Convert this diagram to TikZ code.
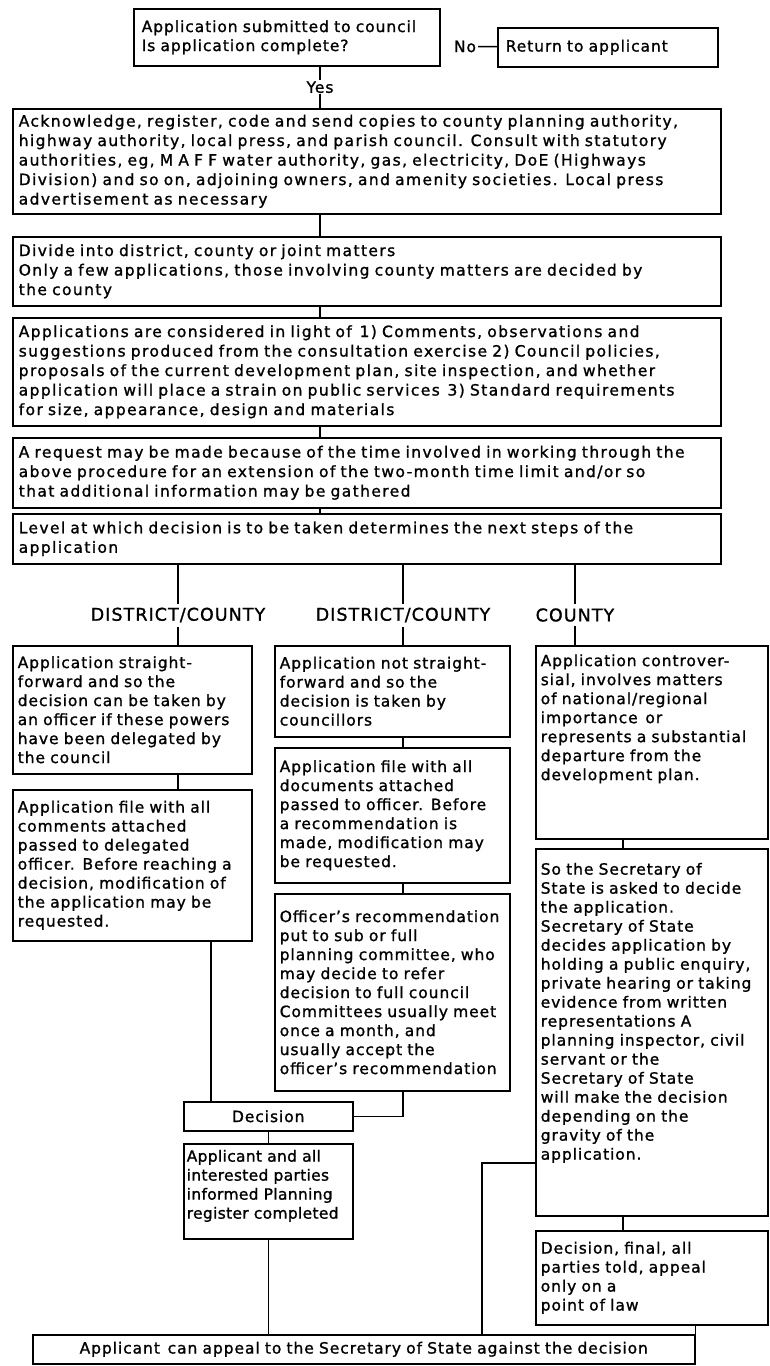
\documentclass[tikz,border=0pt]{standalone}
\usepackage{fontspec}
\setmainfont{DejaVu Sans}[LetterSpace=6, FakeBold=1.2]
\newcommand{\bodyfont}{\fontsize{15.5}{19}\selectfont}
\newcommand{\widefont}{\fontsize{15.5}{19.5}\selectfont\addfontfeature{LetterSpace=9}}
\newcommand{\tightfont}{\fontsize{15.5}{19}\selectfont\addfontfeature{LetterSpace=2}}
\newcommand{\headfont}{\fontsize{17.5}{20}\selectfont}

\tikzset{
  stage/.style={draw, line width=1.5pt, anchor=north west, inner xsep=5pt, inner ysep=2pt, align=left, font=\bodyfont},
  wide/.style={stage, font=\widefont, inner xsep=6pt, minimum width=708pt, text width=696pt},
  colA/.style={stage, minimum width=239pt, text width=229pt},
  colB/.style={stage, minimum width=235pt, text width=225pt},
  colC/.style={stage, minimum width=232pt, text width=222pt},
  branch/.style={font=\headfont, inner sep=4pt},
  link/.style={line width=1.5pt},
}

\begin{document}
\begin{tikzpicture}[x=1pt,y=-1pt]
\useasboundingbox (0,0) rectangle (769,1366);
\coordinate (yx) at (320,0);
\coordinate (ax) at (211,0);
\coordinate (cx) at (623,0);
\coordinate (sx) at (482,1163);

% submission
\node[stage, minimum width=306pt, text width=290pt, inner xsep=8pt, minimum height=57pt] (top) at (133,8) {Application submitted to council\\Is application complete?};
\node[stage, minimum width=220pt, text width=204pt, inner xsep=8pt, minimum height=39pt] (ret) at (497,27) {Return to applicant};
\node[font=\bodyfont, inner sep=2pt] (no) at (465,46.5) {No};
\draw[link] (no) -- (ret);

% common steps
\node[wide, minimum height=105pt] (ack) at (12,108) {Acknowledge, register, code and send copies to county planning authority,\\highway authority, local press, and parish council. Consult with statutory\\authorities, eg, M A F F water authority, gas, electricity, DoE (Highways\\Division) and so on, adjoining owners, and amenity societies. Local press\\advertisement as necessary};
\node[wide, minimum height=69pt] (div) at (12,236) {Divide into district, county or joint matters\\Only a few applications, those involving county matters are decided by\\the county};
\node[wide, minimum height=108pt] (cons) at (12,317) {Applications are considered in light of\enspace 1) Comments, observations and\\suggestions produced from the consultation exercise 2) Council policies,\\proposals of the current development plan, site inspection, and whether\\application will place a strain on public services\enspace 3) Standard requirements\\for size, appearance, design and materials};
\node[wide, minimum height=70pt] (req) at (12,437) {A request may be made because of the time involved in working through the\\above procedure for an extension of the two-month time limit and/or so\\that additional information may be gathered};
\node[wide, minimum height=50pt] (lvl) at (12,513) {Level at which decision is to be taken determines the next steps of the\\application};

\draw[link] (top.south -| yx) -- node[fill=white, font=\bodyfont, inner sep=1pt] {Yes} (ack.north -| yx);
\draw[link] (ack.south -| yx) -- (div.north -| yx);
\draw[link] (div.south -| yx) -- (cons.north -| yx);
\draw[link] (cons.south -| yx) -- (req.north -| yx);
\draw[link] (req.south -| yx) -- (lvl.north -| yx);

% three levels
\node[branch] (d1) at (178,615) {DISTRICT/COUNTY};
\node[branch] (d2) at (403,615) {DISTRICT/COUNTY};
\node[branch] (d3) at (575,615) {COUNTY};

\node[colA, minimum height=128pt] (a1) at (12,645) {Application straight-\\forward and so the\\decision can be taken by\\an officer if these powers\\have been delegated by\\the council};
\node[colA, minimum height=151pt] (a2) at (12,789) {Application file with all\\comments attached\\passed to delegated\\officer. Before reaching a\\decision, modification of\\the application may be\\requested.};

\node[colB, minimum height=91pt] (b1) at (274,645) {Application not straight-\\forward and so the\\decision is taken by\\councillors};
\node[colB, minimum height=135pt] (b2) at (274,747) {Application file with all\\documents attached\\passed to officer. Before\\a recommendation is\\made, modification may\\be requested.};
\node[colB, minimum height=197pt] (b3) at (274,893) {Officer's recommendation\\put to sub or full\\planning committee, who\\may decide to refer\\decision to full council\\Committees usually meet\\once a month, and\\usually accept the\\officer's recommendation};

\node[colC, minimum height=193pt] (c1) at (535,645) {Application controver-\\sial, involves matters\\of national/regional\\importance\enspace or\\represents a substantial\\departure from the\\development plan.\rule[-50pt]{0pt}{50pt}};
\node[colC, minimum height=367pt] (c2) at (535,848) {So the Secretary of\\State is asked to decide\\the application.\\Secretary of State\\decides application by\\holding a public enquiry,\\private hearing or taking\\evidence from written\\representations A\\planning inspector, civil\\servant or the\\Secretary of State\\will make the decision\\depending on the\\gravity of the\\application.\rule[-42pt]{0pt}{42pt}};
\node[colC, minimum height=94pt] (fin) at (535,1230) {Decision, final, all\\parties told, appeal\\only on a\\point of law};

\node[stage, align=center, minimum width=169pt, text width=159pt, minimum height=29pt] (dec) at (183,1101) {Decision};
\node[stage, font=\tightfont, inner xsep=3pt, minimum width=169pt, text width=163pt, minimum height=95pt] (appl) at (183,1143) {Applicant and all\\interested parties\\informed Planning\\register completed\rule[-14pt]{0pt}{14pt}};

\node[stage, align=center, minimum width=662pt, text width=652pt, minimum height=29pt] (appeal) at (32,1334) {Applicant\enspace can appeal to the Secretary of State against the decision};

\draw[link] (lvl.south -| d1) -- (d1.north);
\draw[link] (lvl.south -| d2) -- (d2.north);
\draw[link] (lvl.south -| d3) -- (d3.north);
\draw[link] (d1.south) -- (a1.north -| d1);
\draw[link] (d2.south) -- (b1.north -| d2);
\draw[link] (d3.south) -- (c1.north -| d3);

\draw[link] (a1.south -| d1) -- (a2.north -| d1);
\draw[link] (b1.south -| d2) -- (b2.north -| d2);
\draw[link] (b2.south -| d2) -- (b3.north -| d2);
\draw[link] (c1.south -| cx) -- (c2.north -| cx);
\draw[link] (c2.south -| cx) -- (fin.north -| cx);

\draw[link] (a2.south -| ax) -- (dec.north -| ax);
\draw[link] (b3.south -| d2) |- (dec.east);
\draw[link] (dec) -- (appl);
\draw[link] (appl.south) -- (appeal.north -| appl.south);
\draw[link] (c2.west |- sx) -- (sx) -- (appeal.north -| sx);
\draw[link] (fin.south -| appeal.north east) -- (appeal.north east);
\end{tikzpicture}
\end{document}
